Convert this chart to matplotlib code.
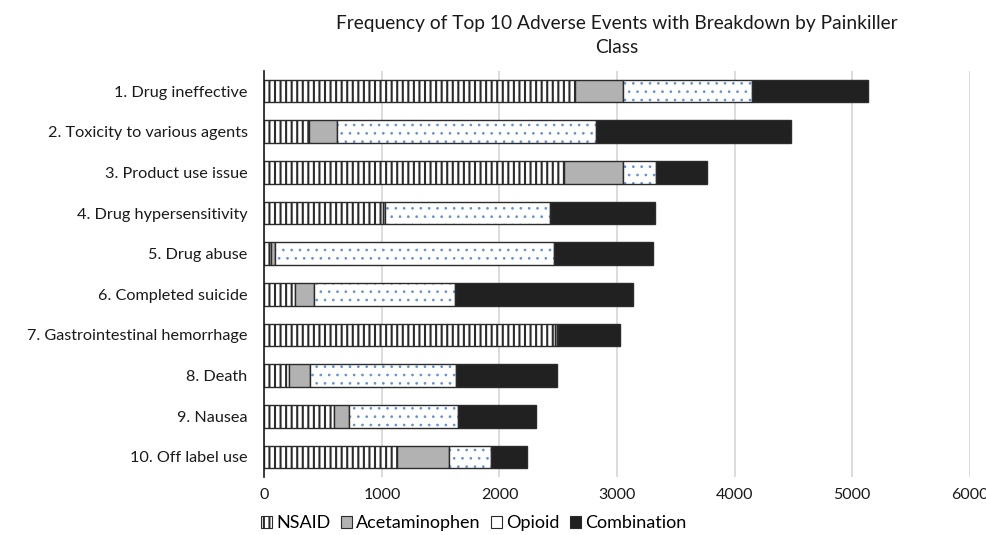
import matplotlib
matplotlib.use("Agg")
import matplotlib.pyplot as plt
from matplotlib.patches import Patch
import numpy as np

categories = [
    "1. Drug ineffective",
    "2. Toxicity to various agents",
    "3. Product use issue",
    "4. Drug hypersensitivity",
    "5. Drug abuse",
    "6. Completed suicide",
    "7. Gastrointestinal hemorrhage",
    "8. Death",
    "9. Nausea",
    "10. Off label use",
]
nsaid = [2643, 377, 2552, 1012, 57, 261, 2475, 213, 590, 1131]
acetaminophen = [405, 241, 496, 15, 30, 159, 15, 173, 130, 443]
opioid = [1100, 2203, 286, 1400, 2376, 1205, 10, 1245, 925, 352]
combination = [984, 1659, 429, 899, 840, 1508, 525, 856, 663, 311]
series_names = ["NSAID", "Acetaminophen", "Opioid", "Combination"]
x_ticks = [0, 1000, 2000, 3000, 4000, 5000, 6000]

plt.rcParams["font.family"] = ["Lato", "DejaVu Sans"]
plt.rcParams["hatch.linewidth"] = 1.5

fig = plt.figure(figsize=(9.87, 5.35), dpi=100)
ax = fig.add_axes([0.2678, 0.1078, 0.9825 - 0.2678, 0.8679 - 0.1078])

y = np.arange(len(categories))
h = 0.56
edge = "#2b2b2b"
lw = 1.0
text_c = "#1a1a1a"

left = np.zeros(len(categories))
# NSAID: vertical stripes
ax.barh(y, nsaid, left=left, height=h, color="white", edgecolor=edge,
        hatch="|||", linewidth=lw, zorder=3)
left += np.array(nsaid)
# Acetaminophen: solid grey
ax.barh(y, acetaminophen, left=left, height=h, color="#b2b2b2",
        edgecolor=edge, linewidth=lw, zorder=3)
left += np.array(acetaminophen)
# Opioid: white with sparse small blue dots, dark outline drawn on top
with plt.rc_context({"hatch.linewidth": 0.7}):
    dots = ax.barh(y, opioid, left=left, height=h, color="white",
                   edgecolor="#6690d4", hatch="..", linewidth=0, zorder=3)
for p in dots:
    if hasattr(p, "set_hatch_linewidth"):
        p.set_hatch_linewidth(0.7)
ax.barh(y, opioid, left=left, height=h, fill=False, edgecolor=edge,
        linewidth=lw, zorder=4)
left += np.array(opioid)
# Combination: near-black
ax.barh(y, combination, left=left, height=h, color="#212121",
        edgecolor=edge, linewidth=lw, zorder=3)

ax.set_ylim(len(categories) - 0.5, -0.5)
ax.set_xlim(0, 6000)
ax.set_yticks(y)
ax.set_yticklabels(categories, fontsize=11.7, color=text_c)
ax.set_xticks(x_ticks)
ax.set_xticklabels([str(v) for v in x_ticks], fontsize=11.5, color=text_c)
ax.tick_params(axis="both", length=0)
ax.tick_params(axis="y", pad=12)
ax.tick_params(axis="x", pad=8)

ax.grid(axis="x", color="#d9d9d9", linewidth=1.3, zorder=0)
ax.set_axisbelow(True)
for s in ["top", "right", "bottom"]:
    ax.spines[s].set_visible(False)
ax.spines["left"].set_color(text_c)
ax.spines["left"].set_linewidth(1.2)
ax.spines["left"].set_zorder(5)

ax.set_title("Frequency of Top 10 Adverse Events with Breakdown by Painkiller\nClass",
             fontsize=13.8, color=text_c, pad=12.5, linespacing=1.5)

handles = [
    Patch(facecolor="white", edgecolor=edge, hatch="|||", linewidth=0.8),
    Patch(facecolor="#b2b2b2", edgecolor=edge, linewidth=0.8),
    Patch(facecolor="white", edgecolor=edge, linewidth=0.8),
    Patch(facecolor="#212121", edgecolor=edge, linewidth=0.8),
]
fig.legend(handles, series_names, loc="center", bbox_to_anchor=(0.48, 0.0224),
           ncol=4, frameon=False, fontsize=13, handlelength=0.62,
           handleheight=0.62, handletextpad=0.2, columnspacing=0.6)

fig.savefig("out.png", dpi=100)
